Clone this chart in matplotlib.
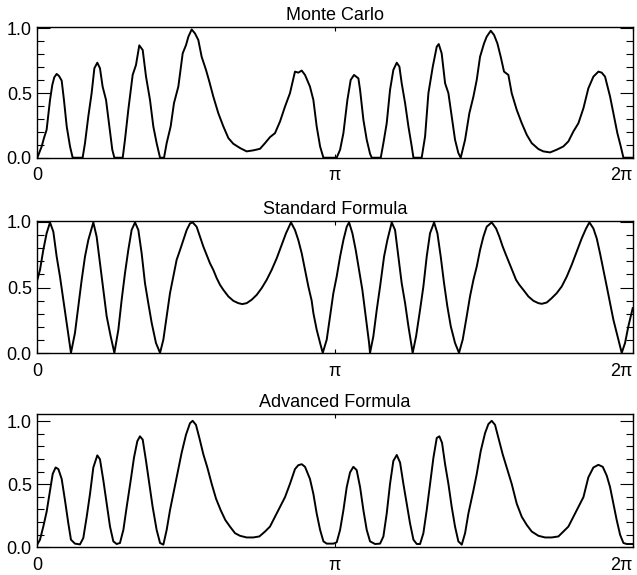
import matplotlib
matplotlib.use("Agg")
import matplotlib.pyplot as plt
import numpy as np

plt.rcParams['font.family'] = ['Liberation Sans', 'DejaVu Sans']

# values (x in radians)
mc_x = [0.000, 0.046, 0.070, 0.098, 0.134, 0.158, 0.179, 0.204, 0.229, 0.257, 0.281, 0.310, 0.345, 0.373,
        0.478, 0.503, 0.538, 0.573, 0.602, 0.633, 0.661, 0.689, 0.725, 0.760, 0.791, 0.813,
        0.901, 0.925, 0.960, 1.006, 1.041, 1.076, 1.112, 1.147, 1.189, 1.224, 1.259, 1.295,
        1.337, 1.365, 1.407, 1.442, 1.488, 1.534, 1.569, 1.594, 1.629, 1.664, 1.699, 1.734, 1.780,
        1.815, 1.857, 1.910, 1.963, 2.016, 2.068, 2.139, 2.209, 2.279, 2.350, 2.403, 2.455, 2.508,
        2.561, 2.614, 2.666, 2.719, 2.754, 2.790, 2.825, 2.877,
        2.913, 2.948, 2.984, 3.019, 3.159, 3.195, 3.230, 3.272, 3.307, 3.342, 3.388, 3.406, 3.441,
        3.476, 3.511, 3.529, 3.624, 3.652, 3.687, 3.722, 3.757, 3.793, 3.821, 3.845, 3.881, 3.916,
        3.951, 3.969, 4.056, 4.092, 4.127, 4.173, 4.215, 4.236, 4.267, 4.303, 4.338, 4.373, 4.408,
        4.443, 4.468, 4.514, 4.559, 4.602, 4.637, 4.672, 4.714, 4.742, 4.785, 4.820, 4.855, 4.890,
        4.925, 4.971, 5.006, 5.059, 5.112, 5.165, 5.217, 5.288, 5.340, 5.411, 5.481, 5.551, 5.604,
        5.657, 5.710, 5.763, 5.815, 5.868, 5.921, 5.956, 5.991, 6.044, 6.086, 6.121, 6.157, 6.185,
        6.283]
mc_y = [0.000, 0.087, 0.152, 0.216, 0.447, 0.563, 0.622, 0.648, 0.632, 0.596, 0.447, 0.242, 0.087, 0.000,
        0.000, 0.113, 0.319, 0.499, 0.692, 0.735, 0.692, 0.550, 0.447, 0.242, 0.062, 0.000,
        0.000, 0.139, 0.370, 0.640, 0.717, 0.869, 0.833, 0.627, 0.447, 0.242, 0.113, 0.000,
        0.000, 0.113, 0.242, 0.422, 0.550, 0.807, 0.871, 0.936, 0.992, 0.961, 0.910, 0.781, 0.679,
        0.589, 0.473, 0.344, 0.242, 0.152, 0.108, 0.075, 0.049, 0.057, 0.069, 0.113, 0.159, 0.190,
        0.280, 0.396, 0.499, 0.666, 0.658, 0.674, 0.640, 0.550,
        0.447, 0.242, 0.087, 0.000, 0.000, 0.062, 0.190, 0.447, 0.602, 0.640, 0.614, 0.524, 0.293,
        0.139, 0.031, 0.000, 0.000, 0.113, 0.267, 0.524, 0.679, 0.735, 0.704, 0.576, 0.422, 0.242,
        0.087, 0.000, 0.000, 0.165, 0.499, 0.704, 0.859, 0.879, 0.807, 0.576, 0.499, 0.319, 0.139,
        0.036, 0.000, 0.139, 0.344, 0.473, 0.602, 0.781, 0.884, 0.936, 0.982, 0.949, 0.884, 0.781,
        0.666, 0.640, 0.499, 0.370, 0.267, 0.177, 0.113, 0.067, 0.049, 0.041, 0.062, 0.087, 0.126,
        0.203, 0.267, 0.383, 0.537, 0.627, 0.666, 0.658, 0.627, 0.473, 0.319, 0.190, 0.087, 0.000,
        0.000]

std_x = [0.000, 0.028, 0.063, 0.098, 0.134, 0.169, 0.204, 0.239, 0.274, 0.310, 0.355, 0.397, 0.433,
         0.468, 0.503, 0.538, 0.591, 0.626, 0.661, 0.697, 0.732, 0.774, 0.813, 0.855, 0.890, 0.925,
         0.960, 0.995, 1.031, 1.066, 1.101, 1.136, 1.171, 1.207, 1.252, 1.295, 1.330, 1.365, 1.400,
         1.435, 1.470, 1.506, 1.541, 1.576, 1.611, 1.639, 1.681, 1.717, 1.752, 1.787, 1.822, 1.857,
         1.893, 1.928, 1.963, 2.016, 2.068, 2.121, 2.163, 2.209, 2.262, 2.315, 2.367, 2.420, 2.473,
         2.526, 2.578, 2.624, 2.677, 2.719, 2.754, 2.790, 2.825, 2.860,
         2.895, 2.913, 2.948, 2.984, 3.012, 3.054, 3.089, 3.124, 3.159, 3.195, 3.230, 3.265, 3.290,
         3.325, 3.360, 3.395, 3.430, 3.465, 3.501, 3.511, 3.546, 3.582, 3.617, 3.659, 3.694, 3.740,
         3.775, 3.810, 3.845, 3.881, 3.916, 3.961, 3.997, 4.039, 4.074, 4.109, 4.144, 4.187, 4.222,
         4.257, 4.292, 4.327, 4.363, 4.408, 4.450, 4.489, 4.531, 4.566, 4.602, 4.637, 4.672, 4.707,
         4.742, 4.795, 4.841, 4.876, 4.911, 4.946, 4.982, 5.017, 5.052, 5.087, 5.129, 5.182, 5.235,
         5.288, 5.323, 5.376, 5.428, 5.481, 5.534, 5.587, 5.639, 5.692, 5.745, 5.791, 5.826, 5.868,
         5.903, 5.938, 5.974, 6.009, 6.044, 6.079, 6.114, 6.150, 6.167, 6.202, 6.237, 6.283]
std_y = [0.558, 0.634, 0.785, 0.912, 0.995, 0.924, 0.735, 0.583, 0.407, 0.230, 0.003, 0.154, 0.356,
         0.558, 0.735, 0.861, 0.995, 0.886, 0.684, 0.482, 0.280, 0.129, 0.003, 0.179, 0.407, 0.609,
         0.785, 0.937, 0.995, 0.937, 0.760, 0.533, 0.381, 0.230, 0.078, 0.003, 0.104, 0.280, 0.457,
         0.583, 0.710, 0.785, 0.861, 0.937, 0.987, 0.995, 0.962, 0.886, 0.811, 0.747, 0.684, 0.634,
         0.571, 0.520, 0.482, 0.432, 0.399, 0.381, 0.374, 0.381, 0.407, 0.444, 0.495, 0.558, 0.634,
         0.722, 0.823, 0.912, 0.995, 0.937, 0.861, 0.760, 0.634, 0.508,
         0.400, 0.306, 0.179, 0.078, 0.003, 0.104, 0.280, 0.457, 0.583, 0.735, 0.861, 0.962, 0.995,
         0.912, 0.785, 0.634, 0.482, 0.280, 0.078, 0.003, 0.129, 0.331, 0.508, 0.735, 0.861, 0.995,
         0.937, 0.735, 0.533, 0.381, 0.205, 0.003, 0.129, 0.331, 0.508, 0.735, 0.912, 0.995, 0.912,
         0.735, 0.533, 0.356, 0.205, 0.078, 0.003, 0.104, 0.280, 0.432, 0.558, 0.659, 0.785, 0.886,
         0.962, 0.995, 0.949, 0.886, 0.811, 0.747, 0.684, 0.621, 0.558, 0.520, 0.482, 0.432, 0.399,
         0.381, 0.376, 0.386, 0.419, 0.457, 0.508, 0.583, 0.672, 0.773, 0.874, 0.949, 0.995, 0.949,
         0.874, 0.760, 0.634, 0.508, 0.381, 0.255, 0.154, 0.053, 0.003, 0.078, 0.205, 0.343]

adv_x = [0.000, 0.028, 0.063, 0.098, 0.134, 0.162, 0.193, 0.222, 0.257, 0.292, 0.327, 0.355, 0.397,
         0.450, 0.485, 0.521, 0.556, 0.591, 0.633, 0.661, 0.697, 0.732, 0.767, 0.802, 0.837, 0.872,
         0.908, 0.943, 0.985, 1.020, 1.055, 1.083, 1.112, 1.147, 1.182, 1.217, 1.259, 1.295, 1.330,
         1.365, 1.400, 1.442, 1.477, 1.523, 1.569, 1.611, 1.639, 1.674, 1.710, 1.752, 1.794, 1.840,
         1.886, 1.935, 1.984, 2.033, 2.086, 2.139, 2.209, 2.279, 2.343, 2.403, 2.455, 2.508, 2.561,
         2.614, 2.666, 2.719, 2.754, 2.790, 2.825, 2.877,
         2.913, 2.948, 2.984, 3.019, 3.054, 3.124, 3.159, 3.195, 3.230, 3.265, 3.300, 3.335, 3.370,
         3.406, 3.441, 3.476, 3.511, 3.564, 3.617, 3.652, 3.687, 3.722, 3.757, 3.793, 3.828, 3.863,
         3.898, 3.933, 3.969, 4.004, 4.039, 4.074, 4.109, 4.144, 4.180, 4.215, 4.243, 4.271, 4.303,
         4.338, 4.373, 4.408, 4.443, 4.479, 4.514, 4.549, 4.602, 4.637, 4.679, 4.725, 4.760, 4.795,
         4.830, 4.866, 4.911, 4.953, 5.006, 5.059, 5.112, 5.165, 5.217, 5.288, 5.358, 5.428, 5.499,
         5.551, 5.604, 5.657, 5.710, 5.763, 5.815, 5.868, 5.921, 5.967, 6.009, 6.044, 6.079, 6.114,
         6.150, 6.185, 6.220, 6.283]
adv_y = [0.023, 0.060, 0.164, 0.281, 0.451, 0.581, 0.633, 0.620, 0.542, 0.372, 0.190, 0.060, 0.029,
         0.023, 0.073, 0.242, 0.424, 0.633, 0.729, 0.698, 0.529, 0.346, 0.164, 0.047, 0.026, 0.034,
         0.138, 0.320, 0.529, 0.711, 0.841, 0.880, 0.854, 0.685, 0.503, 0.320, 0.138, 0.034, 0.021,
         0.138, 0.294, 0.451, 0.581, 0.750, 0.893, 0.984, 1.003, 0.971, 0.867, 0.737, 0.633, 0.503,
         0.385, 0.294, 0.216, 0.164, 0.112, 0.091, 0.078, 0.078, 0.086, 0.125, 0.164, 0.242, 0.320,
         0.398, 0.503, 0.620, 0.651, 0.659, 0.638, 0.542,
         0.424, 0.268, 0.138, 0.047, 0.029, 0.029, 0.039, 0.138, 0.294, 0.477, 0.594, 0.638, 0.612,
         0.477, 0.294, 0.138, 0.047, 0.026, 0.029, 0.086, 0.268, 0.503, 0.685, 0.732, 0.672, 0.503,
         0.346, 0.190, 0.060, 0.026, 0.026, 0.112, 0.294, 0.503, 0.711, 0.867, 0.880, 0.828, 0.659,
         0.503, 0.320, 0.164, 0.047, 0.021, 0.112, 0.268, 0.451, 0.581, 0.763, 0.906, 0.977, 1.003,
         0.971, 0.867, 0.737, 0.633, 0.503, 0.346, 0.242, 0.177, 0.125, 0.091, 0.078, 0.078, 0.086,
         0.125, 0.164, 0.242, 0.320, 0.398, 0.555, 0.633, 0.654, 0.638, 0.568, 0.477, 0.346, 0.216,
         0.099, 0.034, 0.026, 0.026]

titles = ["Monte Carlo", "Standard Formula", "Advanced Formula"]
xticklabels = ["0", "π", "2π"]

fig = plt.figure(figsize=(6.37, 5.75), dpi=100)

panels = [(mc_x, mc_y, (0.0, 1.013), [0.0586, 0.7257, 0.9347, 0.2278]),
          (std_x, std_y, (0.0, 1.008), [0.0586, 0.3856, 0.9347, 0.2306]),
          (adv_x, adv_y, (0.013, 1.057), [0.0586, 0.0482, 0.9347, 0.2318])]

for title, (xs, ys, ylim, rect) in zip(titles, panels):
    ax = fig.add_axes(rect)
    ax.plot(xs, ys, color='black', lw=1.4)
    ax.set_xlim(0, 2 * np.pi)
    ax.set_ylim(*ylim)
    ax.set_xticks([0, np.pi, 2 * np.pi])
    ax.set_xticklabels(xticklabels)
    ax.set_yticks([0.0, 0.5, 1.0])
    ax.set_yticklabels(["0.0", "0.5", "1.0"])
    ax.set_yticks(np.arange(0, 1.01, 0.1), minor=True)
    ax.tick_params(axis='y', which='major', direction='in', length=9.5, width=0.8,
                   right=True, labelsize=13, pad=4)
    ax.tick_params(axis='y', which='minor', direction='in', length=5, width=0.8, right=True)
    ax.tick_params(axis='x', which='major', direction='in', length=3, width=0.8,
                   top=True, labelsize=13, pad=7)
    ax.get_xticklabels()[-1].set_horizontalalignment('right')
    for s in ax.spines.values():
        s.set_linewidth(1.0)
    ax.set_title(title, fontsize=13, pad=5)

fig.savefig("out.png", dpi=100)
